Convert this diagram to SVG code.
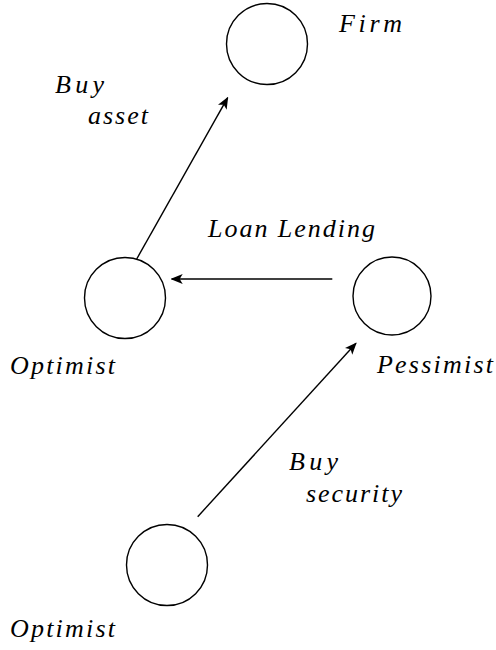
<svg xmlns="http://www.w3.org/2000/svg" width="496" height="650" viewBox="0 0 496 650">
<style>
.node{fill:none;stroke:#000;stroke-width:1.4}
.edge{fill:none;stroke:#000;stroke-width:1.4}
.lbl{font-family:"Liberation Serif","DejaVu Serif",serif;font-style:italic;font-weight:normal;font-size:26px;fill:#000}
</style>
<defs>
<marker id="arr" viewBox="0 0 12 10" refX="11" refY="5" markerWidth="12" markerHeight="10" markerUnits="userSpaceOnUse" orient="auto">
<path d="M0,0 L12,5 L0,10 L3,5 Z" fill="#000"/>
</marker>
</defs>
<rect width="496" height="650" fill="#fff"/>
<g id="firm"><circle class="node" cx="267" cy="44" r="40.5"/><text class="lbl" x="339" y="32" textLength="63" lengthAdjust="spacing">Firm</text></g>
<g id="optimist1"><circle class="node" cx="125" cy="298" r="40.5"/><text class="lbl" x="10" y="374" textLength="105" lengthAdjust="spacing">Optimist</text></g>
<g id="pessimist"><circle class="node" cx="392" cy="296" r="39"/><text class="lbl" x="377" y="373" textLength="116" lengthAdjust="spacing">Pessimist</text></g>
<g id="optimist2"><circle class="node" cx="167" cy="565" r="40.5"/><text class="lbl" x="10" y="637" textLength="105" lengthAdjust="spacing">Optimist</text></g>
<g id="connectors">
<line class="edge" x1="136.7" y1="259" x2="227.7" y2="97.7" marker-end="url(#arr)"/>
<line class="edge" x1="332.3" y1="279" x2="171.7" y2="279" marker-end="url(#arr)"/>
<line class="edge" x1="197.7" y1="516.7" x2="356" y2="343.3" marker-end="url(#arr)"/>
<text class="lbl" x="55" y="93" textLength="49" lengthAdjust="spacing">Buy</text>
<text class="lbl" x="88" y="124" textLength="60" lengthAdjust="spacing">asset</text>
<text class="lbl" x="208" y="236.5" textLength="167" lengthAdjust="spacing">Loan Lending</text>
<text class="lbl" x="289" y="470" textLength="49" lengthAdjust="spacing">Buy</text>
<text class="lbl" x="306" y="501.5" textLength="96" lengthAdjust="spacing">security</text>
</g>
</svg>
